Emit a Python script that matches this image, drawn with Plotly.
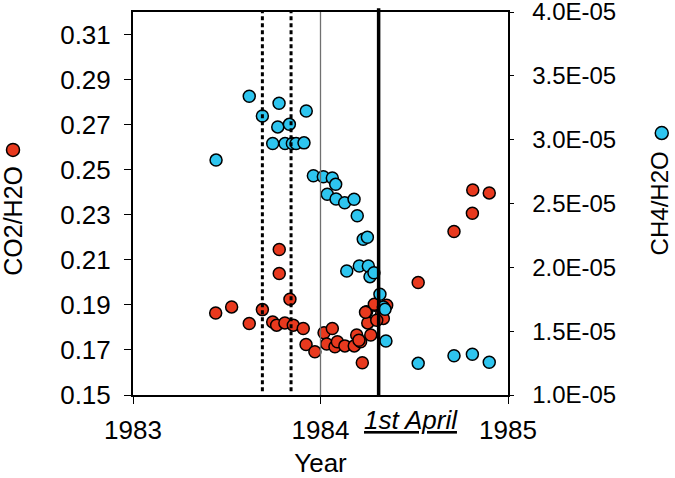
import plotly.graph_objects as go

# CO2/H2O ratio (left axis, red)
co2_year = [1983.441, 1983.526, 1983.62, 1983.69, 1983.78, 1983.78, 1983.837,
            1983.745, 1983.766, 1983.81, 1983.855, 1983.908, 1983.923, 1983.97,
            1984.019, 1984.063, 1984.033, 1984.077, 1984.09, 1984.13, 1984.18,
            1984.193, 1984.214, 1984.223, 1984.268, 1984.246, 1984.252, 1984.29,
            1984.326, 1984.335, 1984.353, 1984.3, 1984.287, 1984.24, 1984.205,
            1984.521, 1984.712, 1984.81, 1984.812, 1984.90]
co2_ratio = [0.1864, 0.1891, 0.1817, 0.1879, 0.2146, 0.2039, 0.1925,
             0.1824, 0.1810, 0.1820, 0.1810, 0.1795, 0.1724, 0.1692,
             0.1776, 0.1795, 0.1726, 0.1714, 0.1736, 0.1718, 0.1718,
             0.1766, 0.1736, 0.1643, 0.1766, 0.1869, 0.1820, 0.1898,
             0.1861, 0.1840, 0.1898, 0.1832, 0.1903, 0.1867, 0.1743,
             0.1999, 0.2226, 0.2307, 0.2410, 0.2397]

# CH4/H2O ratio (right axis, blue)
ch4_year = [1983.443, 1983.62, 1983.69, 1983.779, 1983.772, 1983.834, 1983.924,
            1983.745, 1983.811, 1983.85, 1983.87, 1983.912, 1983.962, 1984.015,
            1984.063, 1984.081, 1984.036, 1984.083, 1984.129, 1984.179, 1984.196,
            1984.228, 1984.25, 1984.14, 1984.207, 1984.255, 1984.264, 1984.285,
            1984.317, 1984.335, 1984.344, 1984.349, 1984.521, 1984.712, 1984.81,
            1984.90]
ch4_ratio = [2.84e-5, 3.34e-5, 3.185e-5, 3.285e-5, 3.10e-5, 3.12e-5, 3.225e-5,
             2.97e-5, 2.97e-5, 2.97e-5, 2.97e-5, 2.975e-5, 2.718e-5, 2.71e-5,
             2.70e-5, 2.65e-5, 2.572e-5, 2.535e-5, 2.506e-5, 2.533e-5, 2.404e-5,
             2.22e-5, 2.235e-5, 1.971e-5, 2.01e-5, 2.01e-5, 1.927e-5, 1.958e-5,
             1.789e-5, 1.69e-5, 1.671e-5, 1.423e-5, 1.248e-5, 1.308e-5, 1.319e-5,
             1.256e-5]

# reference lines
dotted_years = [1983.69, 1983.843]
year_start = 1984.0
april_line = 1984.31

left_ticks = [0.15, 0.17, 0.19, 0.21, 0.23, 0.25, 0.27, 0.29, 0.31]
right_ticks = [1.0e-5, 1.5e-5, 2.0e-5, 2.5e-5, 3.0e-5, 3.5e-5, 3.99999e-5]
right_labels = ["1.0E-05", "1.5E-05", "2.0E-05", "2.5E-05", "3.0E-05", "3.5E-05", "4.0E-05"]
x_ticks = [1983, 1984, 1985]

RED = "#E8391E"
BLUE = "#2EC5EF"
FONT = "Arial, Liberation Sans, sans-serif"
PAD = "\u00a0\u00a0"  # push right tick labels away from the axis

fig = go.Figure()
fig.add_trace(go.Scatter(
    x=co2_year, y=co2_ratio, mode="markers", name="CO2/H2O",
    marker=dict(size=12, color=RED, line=dict(color="black", width=1.5)),
))
fig.add_trace(go.Scatter(
    x=ch4_year, y=ch4_ratio, mode="markers", name="CH4/H2O", yaxis="y2",
    marker=dict(size=12, color=BLUE, line=dict(color="black", width=1.5)),
))

for xv in dotted_years:
    fig.add_shape(type="line", xref="x", yref="paper", x0=xv, x1=xv, y0=0.01, y1=1,
                  line=dict(color="black", width=3, dash="4px,3px"), layer="above")
fig.add_shape(type="line", xref="x", yref="paper", x0=year_start, x1=year_start, y0=0, y1=1,
              line=dict(color="#707070", width=1.3), layer="above")
fig.add_shape(type="line", xref="x", yref="paper", x0=april_line, x1=april_line, y0=0, y1=1.01,
              line=dict(color="black", width=3.5), layer="above")

# legend dots next to axis titles
for px, py, col in [(-0.32, 0.64, RED), (1.41, 0.684, BLUE)]:
    fig.add_shape(type="circle", xref="paper", yref="paper",
                  xsizemode="pixel", ysizemode="pixel", xanchor=px, yanchor=py,
                  x0=-6.5, x1=6.5, y0=-6.5, y1=6.5,
                  fillcolor=col, line=dict(color="black", width=1.5))

fig.add_annotation(text="CO2/H2O", xref="paper", yref="paper", x=-0.32, y=0.455,
                   textangle=-90, showarrow=False, xanchor="center", yanchor="middle",
                   font=dict(size=25, family=FONT, color="black"))
fig.add_annotation(text="CH4/H2O", xref="paper", yref="paper", x=1.405, y=0.5,
                   textangle=-90, showarrow=False, xanchor="center", yanchor="middle",
                   font=dict(size=24, family=FONT, color="black"))
fig.add_annotation(text="<i><u>1st April</u></i>", xref="paper", yref="paper", x=0.741, y=-0.066,
                   showarrow=False, xanchor="center", yanchor="middle",
                   font=dict(size=26, family=FONT, color="black"))

fig.update_layout(
    width=675, height=478,
    margin=dict(l=133, r=167, t=12, b=83, autoexpand=False),
    paper_bgcolor="white", plot_bgcolor="white",
    showlegend=False,
    font=dict(family=FONT, size=25, color="black"),
    xaxis=dict(
        range=[1983, 1985], tickvals=x_ticks, ticktext=[str(v) for v in x_ticks],
        showgrid=False, zeroline=False, showline=True, linecolor="black", linewidth=2,
        mirror=True, ticks="outside", ticklen=7, tickcolor="black", automargin=False,
        ticklabeloverflow="allow", ticklabelstandoff=4, tickfont=dict(size=26),
        title=dict(text="Year", standoff=24, font=dict(size=26)),
    ),
    yaxis=dict(
        range=[0.15, 0.32], tickvals=left_ticks, ticktext=[f"{v:.2f}" for v in left_ticks],
        showgrid=False, zeroline=False, showline=True, linecolor="black", linewidth=2,
        ticks="outside", ticklen=7, tickcolor="black", ticklabelstandoff=8,
        automargin=False, tickfont=dict(size=26), ticklabeloverflow="allow",
    ),
    yaxis2=dict(
        range=[1e-5, 4e-5], tickvals=right_ticks, ticktext=[PAD + t for t in right_labels],
        overlaying="y", side="right",
        showgrid=False, zeroline=False, showline=True, linecolor="black", linewidth=2,
        ticks="outside", ticklen=4, tickcolor="black",
        automargin=False, tickfont=dict(size=24), ticklabeloverflow="allow",
    ),
)

fig.write_html("out.html", config={"displayModeBar": False},
               post_script="document.body.style.margin = '0';")
